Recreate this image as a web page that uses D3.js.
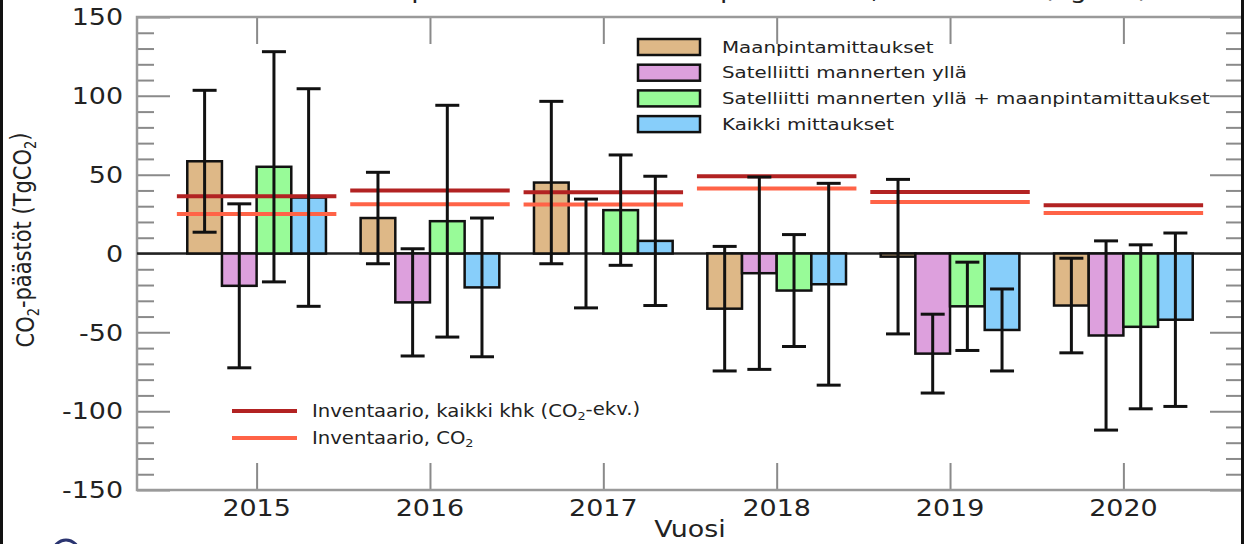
<!DOCTYPE html>
<html>
<head>
<meta charset="utf-8">
<script src="https://cdn.jsdelivr.net/npm/d3@7"></script>
<style>
  body { margin: 0; background: #fff; }
  svg { display: block; }
  text { font-family: "DejaVu Sans", sans-serif; fill: #222; }
</style>
</head>
<body>
<svg id="chart" width="1244" height="544"></svg>
<script>
// data (TgCO2)
var years = [2015, 2016, 2017, 2018, 2019, 2020];
var seriesNames = ["Maanpintamittaukset", "Satelliitti mannerten yllä",
                   "Satelliitti mannerten yllä + maanpintamittaukset", "Kaikki mittaukset"];
var maanpinta      = [58.5, 22.5, 45, -35, -2, -33];
var maanpintaErr   = [45, 29, 51.5, 39.5, 49, 30];
var satelliitti    = [-20.5, -31, 0, -12.5, -63.5, -52];
var satelliittiErr = [52, 34, 34.5, 61, 25, 60];
var satMaan        = [55, 20.5, 27.5, -23.5, -33.5, -46.5];
var satMaanErr     = [73, 73.5, 35, 35.5, 28, 52];
var kaikki         = [35.5, -21.5, 8, -19.5, -48.5, -42];
var kaikkiErr      = [69, 44, 41, 64, 26, 55];
var invKaikki      = [36.3, 40, 38.8, 49, 39, 30.6];
var invCO2         = [25, 31.3, 31, 41.3, 32.7, 25.7];
var yTicks = [-150, -100, -50, 0, 50, 100, 150];

var values = [maanpinta, satelliitti, satMaan, kaikki];
var errors = [maanpintaErr, satelliittiErr, satMaanErr, kaikkiErr];
var colors = ["#deb887", "#dda0dd", "#98fb98", "#87cefa"];
var offsets = [-0.4, -0.2, 0, 0.2];
var barW = 0.2;
var stretch = "scale(1.17,1)";

var svg = d3.select("#chart"),
    margin = {top: 17, right: 1, bottom: 54, left: 137},
    width = 1244 - margin.left - margin.right,
    height = 544 - margin.top - margin.bottom,
    g = svg.append("g").attr("transform", "translate(" + margin.left + "," + margin.top + ")");

var x = d3.scaleLinear().domain([2014.31, 2020.69]).range([0, width]);
var y = d3.scaleLinear().domain([-150, 150]).range([height, 0]);

// title, mostly cut off at the top of the picture (as in the original)
svg.append("text")
    .attr("transform", "translate(690,-2) " + stretch)
    .attr("text-anchor", "middle")
    .style("font-size", "23px")
    .text("Suomen CO₂-päästöt eri mittausten perusteella, 2015-2020 (TgCO₂)");

// ticks
function tickAxis(axis, tx, ty, size, vals) {
  var a = g.append("g")
      .attr("transform", "translate(" + tx + "," + ty + ")")
      .call(axis.tickValues(vals).tickSize(size).tickFormat(""));
  a.select(".domain").remove();
  a.selectAll("line").attr("stroke", "#8a8a8a").attr("stroke-width", 2);
}
var minor = d3.range(-140, 141, 10).filter(function(d) { return d % 50 !== 0; });
tickAxis(d3.axisLeft(y), 0, 0, -33, yTicks);
tickAxis(d3.axisLeft(y), 0, 0, -17, minor);
tickAxis(d3.axisRight(y), width, 0, -33, yTicks);
tickAxis(d3.axisRight(y), width, 0, -17, minor);
tickAxis(d3.axisTop(x), 0, 0, -27, years);
tickAxis(d3.axisBottom(x), 0, height, -27, years);

// frame
g.append("rect")
    .attr("width", width).attr("height", height)
    .attr("fill", "none").attr("stroke", "#9a9a9a").attr("stroke-width", 2.5);

// zero line
g.append("line")
    .attr("x1", 0).attr("x2", width)
    .attr("y1", y(0)).attr("y2", y(0))
    .attr("stroke", "#222").attr("stroke-width", 2.5);

// bars
values.forEach(function(vals, i) {
  g.append("g").selectAll("rect")
    .data(vals)
    .enter().append("rect")
      .attr("x", function(d, j) { return x(years[j] + offsets[i]); })
      .attr("width", x(2015 + barW) - x(2015))
      .attr("y", function(d) { return y(Math.max(0, d)); })
      .attr("height", function(d) { return Math.abs(y(d) - y(0)); })
      .attr("fill", colors[i])
      .attr("stroke", "#111")
      .attr("stroke-width", 2.5);
});

// inventory lines
function invLines(vals, color) {
  g.append("g").selectAll("line")
    .data(vals)
    .enter().append("line")
      .attr("x1", function(d, j) { return x(years[j] - 0.46); })
      .attr("x2", function(d, j) { return x(years[j] + 0.46); })
      .attr("y1", function(d) { return y(d); })
      .attr("y2", function(d) { return y(d); })
      .attr("stroke", color)
      .attr("stroke-width", 4);
}
invLines(invKaikki, "#b22222");
invLines(invCO2, "#ff6347");

// error bars
values.forEach(function(vals, i) {
  var eg = g.append("g").attr("stroke", "#111").attr("stroke-width", 3);
  vals.forEach(function(d, j) {
    var cx = x(years[j] + offsets[i] + barW / 2),
        lo = y(d - errors[i][j]), hi = y(d + errors[i][j]);
    eg.append("line").attr("x1", cx).attr("x2", cx).attr("y1", lo).attr("y2", hi);
    eg.append("line").attr("x1", cx - 12).attr("x2", cx + 12).attr("y1", lo).attr("y2", lo);
    eg.append("line").attr("x1", cx - 12).attr("x2", cx + 12).attr("y1", hi).attr("y2", hi);
  });
});

// tick labels
g.append("g").selectAll("text")
  .data(yTicks)
  .enter().append("text")
    .attr("transform", function(d) { return "translate(-14," + y(d) + ") " + stretch; })
    .attr("dy", "0.36em")
    .attr("text-anchor", "end")
    .style("font-size", "23px")
    .text(function(d) { return d; });

g.append("g").selectAll("text")
  .data(years)
  .enter().append("text")
    .attr("transform", function(d) { return "translate(" + x(d) + "," + (height + 26) + ") " + stretch; })
    .attr("text-anchor", "middle")
    .style("font-size", "23px")
    .text(function(d) { return d; });

g.append("text")
    .attr("transform", "translate(" + x(2017.5) + "," + (height + 47) + ") " + stretch)
    .attr("text-anchor", "middle")
    .style("font-size", "23px")
    .text("Vuosi");

// y title
var yt = svg.append("text")
    .attr("transform", "translate(34,240) rotate(-90) scale(1,1.17)")
    .attr("text-anchor", "middle")
    .style("font-size", "21px");
yt.append("tspan").text("CO");
yt.append("tspan").attr("dy", "0.3em").style("font-size", "13px").text("2");
yt.append("tspan").attr("dy", "-0.3em").text("-päästöt (TgCO");
yt.append("tspan").attr("dy", "0.3em").style("font-size", "13px").text("2");
yt.append("tspan").attr("dy", "-0.3em").text(")");

// legend for bars
var leg = svg.append("g");
seriesNames.forEach(function(name, i) {
  var ly = 47 + i * 25.7;
  leg.append("rect")
      .attr("x", 638).attr("y", ly - 8)
      .attr("width", 62).attr("height", 16)
      .attr("fill", colors[i]).attr("stroke", "#111").attr("stroke-width", 2.5);
  leg.append("text")
      .attr("transform", "translate(722," + ly + ") scale(1.24,1)")
      .attr("dy", "0.35em")
      .style("font-size", "16px")
      .text(name);
});

// legend for inventory lines
var inv = [{c: "#b22222", y: 411, t: ["Inventaario, kaikki khk (CO", "2", "-ekv.)"]},
           {c: "#ff6347", y: 438, t: ["Inventaario, CO", "2", ""]}];
inv.forEach(function(d) {
  svg.append("line")
      .attr("x1", 232).attr("x2", 297).attr("y1", d.y).attr("y2", d.y)
      .attr("stroke", d.c).attr("stroke-width", 4);
  var t = svg.append("text")
      .attr("transform", "translate(312," + d.y + ") " + stretch)
      .attr("dy", "0.35em")
      .style("font-size", "16.8px");
  t.append("tspan").text(d.t[0]);
  t.append("tspan").attr("dy", "0.3em").style("font-size", "11px").text(d.t[1]);
  t.append("tspan").attr("dy", "-0.3em").text(d.t[2]);
});

// picture edges
svg.append("rect").attr("x", 0).attr("y", 0).attr("width", 3).attr("height", 544).attr("fill", "#111");
svg.append("rect").attr("x", 1241).attr("y", 0).attr("width", 3).attr("height", 544).attr("fill", "#111");
svg.append("circle").attr("cx", 66).attr("cy", 553).attr("r", 13)
    .attr("fill", "none").attr("stroke", "#2a3470").attr("stroke-width", 3);
</script>
</body>
</html>
